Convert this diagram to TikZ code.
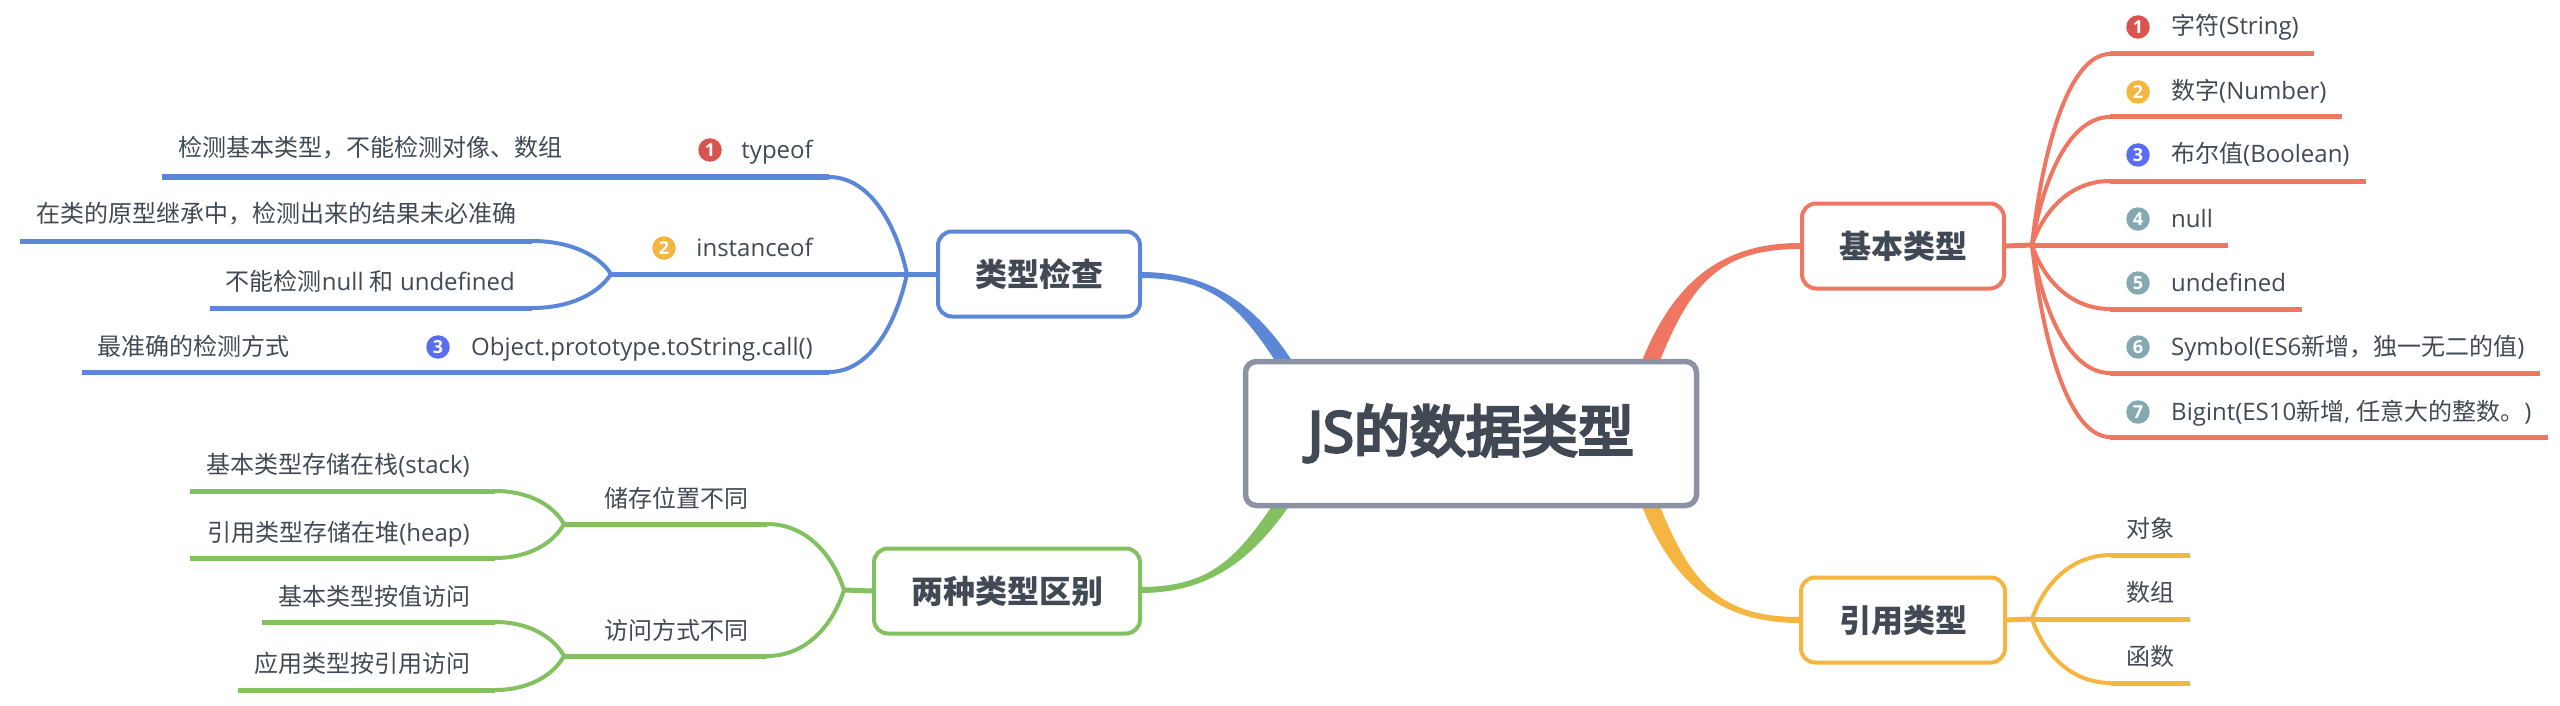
\documentclass[tikz,border=0pt]{standalone}
\usepackage{fontspec}
\setmainfont{Open Sans}
\newfontfamily\cjk{Noto Sans CJK SC}
\newfontfamily\cjkmed[FakeBold=5]{Noto Sans CJK SC}
\newfontfamily\latmed[FakeBold=5]{Open Sans}
\usetikzlibrary{calc,backgrounds}
\newcommand{\zh}[1]{{\cjk #1}}
\definecolor{ink}{HTML}{414A54}
\definecolor{cred}{HTML}{EF7660}
\definecolor{cblue}{HTML}{5B87D6}
\definecolor{cgreen}{HTML}{82C060}
\definecolor{cgold}{HTML}{F5B541}
\definecolor{cgrey}{HTML}{8A92A3}
\definecolor{ired}{HTML}{D9534F}
\definecolor{iblue}{HTML}{5A6CF0}
\definecolor{iteal}{HTML}{85A9B0}
\tikzset{
  x=1pt,y=-1pt,
  label text/.style={inner sep=0pt,text=ink,font=\fontsize{24}{28}\selectfont},
  lw/.style={label text,anchor=base west},
  le/.style={label text,anchor=base east},
  rootbox/.style={draw=cgrey,line width=5.5pt,fill=white,rounded corners=11pt,text=ink,minimum width=451pt,minimum height=144pt,font=\fontsize{56}{64}\selectfont,inner sep=0pt},
  topicbox/.style={line width=4pt,fill=white,rounded corners=14pt,text=ink,font=\fontsize{32}{38}\selectfont\bfseries,inner sep=0pt,minimum height=85pt},
  badge/.style={circle,inner sep=0pt,minimum size=23.5pt,text=white,font=\fontsize{18}{19}\selectfont\bfseries},
  curveline/.style={line width=4pt,line cap=round},
  barline/.style={line width=5pt},
  stubline/.style={line width=5pt}
}
% curved twig from a branch point a to elbow b, then a straight bar to c
\newcommand{\twig}[4]{%
  \draw[#1,curveline] (#2) .. controls ($(#2)!.55!(#2|-#3) + .15*(#3) - .15*(#2|-#3)$) and ($(#2|-#3)!.5!(#3)$) .. (#3);
  \draw[#1,barline] (#3) -- (#4);}
% tapered thick limb from a to b with control offsets and half width
\newcommand{\limbsign}{1}
\newcommand{\limb}[6]{%
  \fill[#1] ($(#2)+(#5,0)$) .. controls ($(#2)+#3+(#5,0)$) and ($(#6)+#4+(0,3*\limbsign)$) .. ($(#6)+(0,3*\limbsign)$)
    -- ($(#6)-(0,3*\limbsign)$) .. controls ($(#6)+#4-(0,3*\limbsign)$) and ($(#2)+#3-(#5,0)$) .. ($(#2)-(#5,0)$) -- cycle;}
\begin{document}
\begin{tikzpicture}
\useasboundingbox (0,0) rectangle (2560,706);
% boxes
\node[rootbox] (root) at (1471,433.5) {{\latmed JS}{\cjkmed 的数据类型}};
\node[topicbox,draw=cred,minimum width=202pt] (basic) at (1903,246) {\zh{\bfseries 基本类型}};
\node[topicbox,draw=cgold,minimum width=204pt] (ref) at (1903,620) {\zh{\bfseries 引用类型}};
\node[topicbox,draw=cblue,minimum width=202pt] (check) at (1039,274) {\zh{\bfseries 类型检查}};
\node[topicbox,draw=cgreen,minimum width=266pt] (diff) at (1007,591) {\zh{\bfseries 两种类型区别}};
% right: basic types
\node[badge,fill=ired] (b1) at (2138,27) {1};
\node[badge,fill=cgold] (b2) at (2138,92) {2};
\node[badge,fill=iblue] (b3) at (2138,155) {3};
\node[badge,fill=iteal] (b4) at (2138,219) {4};
\node[badge,fill=iteal] (b5) at (2138,283) {5};
\node[badge,fill=iteal] (b6) at (2138,347) {6};
\node[badge,fill=iteal] (b7) at (2138,412) {7};
\node[lw] (t1) at (2171,35) {\zh{字符}(String)};
\node[lw] (t2) at (2171,100) {\zh{数字}(Number)};
\node[lw] (t3) at (2171,163) {\zh{布尔值}(Boolean)};
\node[lw] (t4) at (2171,227) {null};
\node[lw] (t5) at (2171,291) {undefined};
\node[lw] (t6) at (2171,355) {Symbol(ES6\zh{新增，独一无二的值})};
\node[lw] (t7) at (2171,420) {Bigint(ES10\zh{新增}, \zh{任意大的整数。})};
% right: reference types
\node[lw] (r1) at (2126,537) {\zh{对象}};
\node[lw] (r2) at (2126,601) {\zh{数组}};
\node[lw] (r3) at (2126,665) {\zh{函数}};
% left: type checks
\node[badge,fill=ired] (c1) at (710,150) {1};
\node[badge,fill=cgold] (c2) at (664,248) {2};
\node[badge,fill=iblue] (c3) at (438,347) {3};
\node[le] (l1) at (813,158) {typeof};
\node[le] (l2) at (813,256) {instanceof};
\node[le] (l3) at (813,355) {Object.prototype.toString.call()};
\node[le] (l1a) at (563,157) {\zh{检测基本类型，不能检测对像、数组}};
\node[le] (l2a) at (517,222) {\zh{在类的原型继承中，检测出来的结果未必准确}};
\node[le] (l2b) at (515,290) {\zh{不能检测}null \zh{和} undefined};
\node[le] (l3a) at (290,355) {\zh{最准确的检测方式}};
% left: differences
\node[le] (d1) at (749,507) {\zh{储存位置不同}};
\node[le] (d2) at (749,639) {\zh{访问方式不同}};
\node[le] (d1a) at (470,473) {\zh{基本类型存储在栈}(stack)};
\node[le] (d1b) at (470,541) {\zh{引用类型存储在堆}(heap)};
\node[le] (d2a) at (471,605) {\zh{基本类型按值访问}};
\node[le] (d2b) at (471,672) {\zh{应用类型按引用访问}};
% junctions and bar ends
\coordinate (jb) at (2032,245);
\coordinate (jr) at (2032,619);
\coordinate (jc) at (907,274);
\coordinate (jc2) at (611,274);
\coordinate (jd) at (844,590);
\coordinate (jd1) at (564,524);
\coordinate (jd2) at (564,656);
\begin{pgfonlayer}{background}
% main limbs
\renewcommand{\limbsign}{-1}
\limb{cred}{1650,363}{(32,-80)}{(-80,0)}{-9}{1800,246}
\renewcommand{\limbsign}{1}
\limb{cgold}{1650,504}{(32,80)}{(-80,0)}{-9}{1800,620}
\renewcommand{\limbsign}{-1}
\limb{cblue}{1285,363}{(-38,-59)}{(70,0)}{8.5}{1140,275}
\renewcommand{\limbsign}{1}
\limb{cgreen}{1282,504}{(-38,55)}{(70,0)}{8.5}{1140,590}
% basic types
\draw[cred,stubline] (basic.east) -- (jb);
\coordinate (e1) at (2110,54); \coordinate (f1) at (2314,54);
\coordinate (e2) at (2110,117); \coordinate (f2) at (2342,117);
\coordinate (e3) at (2110,181); \coordinate (f3) at (2366,181);
\coordinate (f4) at (2228,245);
\coordinate (e5) at (2110,309); \coordinate (f5) at (2302,309);
\coordinate (e6) at (2110,373); \coordinate (f6) at (2540,373);
\coordinate (e7) at (2110,437); \coordinate (f7) at (2548,437);
\twig{cred}{jb}{e1}{f1}
\twig{cred}{jb}{e2}{f2}
\twig{cred}{jb}{e3}{f3}
\draw[cred,barline] (jb) -- (f4);
\twig{cred}{jb}{e5}{f5}
\twig{cred}{jb}{e6}{f6}
\twig{cred}{jb}{e7}{f7}
% reference types
\draw[cgold,stubline] (ref.east) -- (jr);
\coordinate (g1) at (2111,555); \coordinate (h1) at (2190,555);
\coordinate (h2) at (2190,619);
\coordinate (g3) at (2111,683); \coordinate (h3) at (2190,683);
\twig{cgold}{jr}{g1}{h1}
\draw[cgold,barline] (jr) -- (h2);
\twig{cgold}{jr}{g3}{h3}
% type checks
\draw[cblue,stubline] (check.west) -- (jc);
\coordinate (k1) at (829,177); \coordinate (m1) at (162,177);
\coordinate (k3) at (829,372); \coordinate (m3) at (82,372);
\twig{cblue}{jc}{k1}{m1}
\twig{cblue}{jc}{k3}{m3}
\draw[cblue,barline] (jc) -- (jc2);
\coordinate (p1) at (532,241); \coordinate (q1) at (20,241);
\coordinate (p2) at (532,308); \coordinate (q2) at (210,308);
\twig{cblue}{jc2}{p1}{q1}
\twig{cblue}{jc2}{p2}{q2}
% differences
\draw[cgreen,stubline] (diff.west) -- (jd);
\coordinate (u1) at (767,524);
\coordinate (u2) at (767,656);
\twig{cgreen}{jd}{u1}{jd1}
\twig{cgreen}{jd}{u2}{jd2}
\coordinate (v1) at (495,491); \coordinate (w1) at (190,491);
\coordinate (v2) at (495,558); \coordinate (w2) at (190,558);
\coordinate (v3) at (495,622); \coordinate (w3) at (262,622);
\coordinate (v4) at (495,690); \coordinate (w4) at (238,690);
\twig{cgreen}{jd1}{v1}{w1}
\twig{cgreen}{jd1}{v2}{w2}
\twig{cgreen}{jd2}{v3}{w3}
\twig{cgreen}{jd2}{v4}{w4}
\end{pgfonlayer}
\end{tikzpicture}
\end{document}
